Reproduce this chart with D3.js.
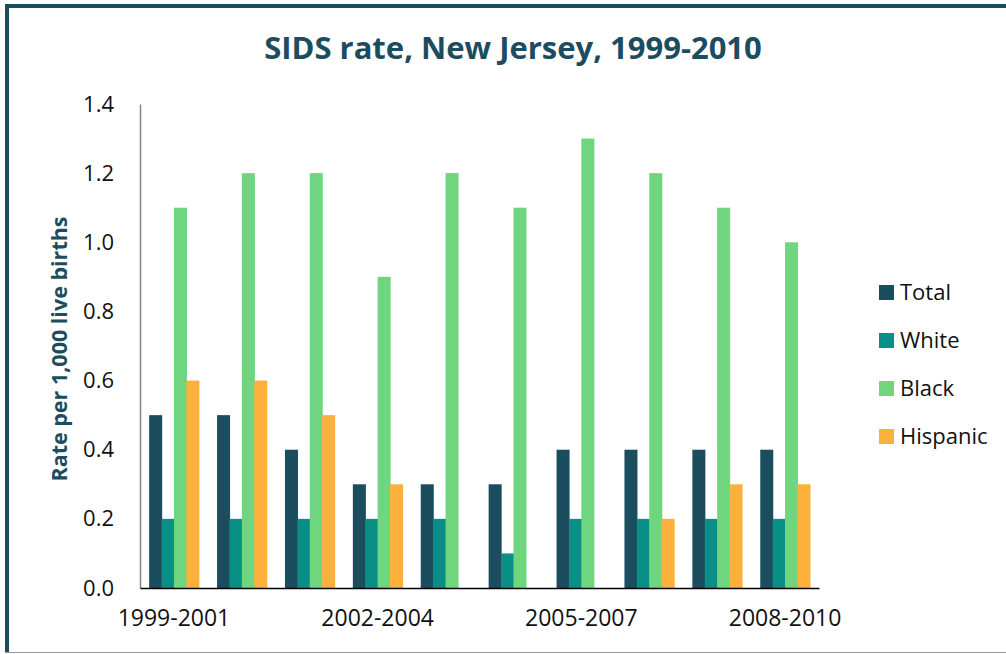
<!DOCTYPE html>
<html>
<head>
<meta charset="utf-8">
<script src="https://cdn.jsdelivr.net/npm/d3@7"></script>
<style>
    body { margin: 0; background: #fff; }
    svg { display: block; font-family: "Open Sans", sans-serif; }
</style>
</head>
<body>
<div id="chart"></div>
<script>
// --------- DATA ---------
let periods = ["1999-2001", "2000-2002", "2001-2003", "2002-2004", "2003-2005",
               "2004-2006", "2005-2007", "2006-2008", "2007-2009", "2008-2010"];
let shownLabels = ["1999-2001", "2002-2004", "2005-2007", "2008-2010"];
let seriesNames = ["Total", "White", "Black", "Hispanic"];
let total    = [0.5, 0.5, 0.4, 0.3, 0.3, 0.3, 0.4, 0.4, 0.4, 0.4];
let white    = [0.2, 0.2, 0.2, 0.2, 0.2, 0.1, 0.2, 0.2, 0.2, 0.2];
let black    = [1.1, 1.2, 1.2, 0.9, 1.2, 1.1, 1.3, 1.2, 1.1, 1.0];
let hispanic = [0.6, 0.6, 0.5, 0.3, null, null, null, 0.2, 0.3, 0.3];
let yTicks = [0, 0.2, 0.4, 0.6, 0.8, 1.0, 1.2, 1.4];
let colors = ["#1b4d5f", "#0a8f87", "#6fd67f", "#fbb03b"];

let values = [total, white, black, hispanic];

// --------- CHART ---------
let W = 1006, H = 654;
let margin = {top: 104, right: 187, bottom: 66, left: 140},
    width = W - margin.left - margin.right,
    height = H - margin.top - margin.bottom;

let svg = d3.select("#chart").append("svg")
    .attr("width", W)
    .attr("height", H);

// frame: thick left/top, thin bottom
svg.append("rect").attr("x", 5).attr("y", 4).attr("width", 4).attr("height", 649).attr("fill", "#1b4d5f");
svg.append("rect").attr("x", 5).attr("y", 4).attr("width", W - 5).attr("height", 4).attr("fill", "#1b4d5f");
svg.append("line").attr("x1", 5).attr("x2", W).attr("y1", 652.5).attr("y2", 652.5)
    .attr("stroke", "#8a9aa0").attr("stroke-width", 1);

// title
svg.append("text")
    .attr("x", 513)
    .attr("y", 59)
    .attr("text-anchor", "middle")
    .attr("fill", "#1b4d5f")
    .attr("font-weight", "bold")
    .attr("font-size", 31)
    .text("SIDS rate, New Jersey, 1999-2010");

let graph = svg.append("g")
    .attr("transform", "translate(" + margin.left + "," + margin.top + ")");

let yScale = d3.scaleLinear()
    .domain([0, 1.4])
    .range([height, 0]);

let xScale = d3.scaleBand()
    .domain(periods)
    .range([0, width])
    .padding(0);

let barSpan = 49.6;
let inner = d3.scaleBand()
    .domain(seriesNames)
    .range([0, barSpan]);

// y axis
let yAxis = d3.axisLeft(yScale)
    .tickValues(yTicks)
    .tickSize(0)
    .tickPadding(26)
    .tickFormat(d3.format(".1f"));

let yg = graph.append("g").call(yAxis);
yg.select(".domain").attr("stroke", "#868686").attr("stroke-width", 1.5);
yg.selectAll("text").attr("font-size", 22).attr("fill", "#111").attr("font-family", "Open Sans");

// bars
let groups = graph.selectAll(".grp")
    .data(periods)
    .enter().append("g")
    .attr("class", "grp")
    .attr("transform", d => "translate(" + (xScale(d) + (xScale.bandwidth() - barSpan) / 2) + ",0)");

groups.selectAll("rect")
    .data((p, i) => seriesNames.map((s, j) => ({s: s, j: j, v: values[j][i]})).filter(d => d.v !== null))
    .enter().append("rect")
    .attr("x", d => inner(d.s))
    .attr("y", d => yScale(d.v))
    .attr("width", inner.bandwidth() * 1.05)
    .attr("height", d => height - yScale(d.v))
    .attr("fill", d => colors[d.j]);

// x axis
let xAxis = d3.axisBottom(xScale)
    .tickValues(shownLabels)
    .tickSize(0)
    .tickPadding(22);

let xg = graph.append("g")
    .attr("transform", "translate(0," + height + ")")
    .call(xAxis);
xg.select(".domain").attr("stroke", "#000").attr("stroke-width", 1.5);
xg.selectAll("text").attr("font-size", 23).attr("fill", "#111").attr("font-family", "Open Sans");

// y label
svg.append("text")
    .attr("transform", "translate(67,349) rotate(-90)")
    .attr("text-anchor", "middle")
    .attr("fill", "#1b4d5f")
    .attr("font-weight", "bold")
    .attr("font-size", 21.5)
    .text("Rate per 1,000 live births");

// legend
let legend = svg.selectAll(".legend")
    .data(seriesNames)
    .enter().append("g")
    .attr("class", "legend")
    .attr("transform", (d, i) => "translate(879," + (285 + i * 48) + ")");

legend.append("rect")
    .attr("width", 15)
    .attr("height", 15)
    .attr("fill", (d, i) => colors[i]);

legend.append("text")
    .attr("x", 21)
    .attr("y", 15)
    .attr("font-size", 22)
    .attr("fill", "#111")
    .text(d => d);
</script>
</body>
</html>
